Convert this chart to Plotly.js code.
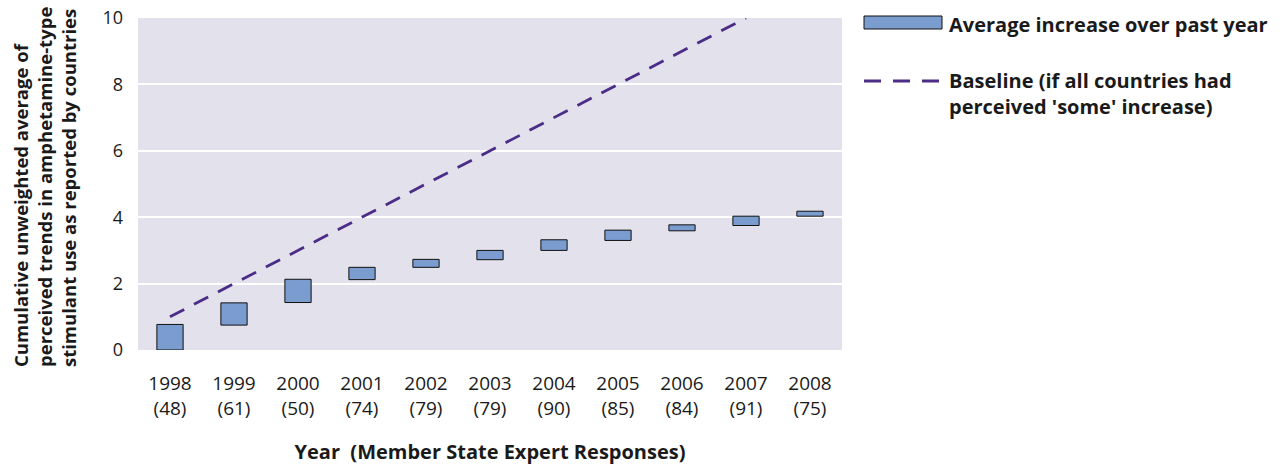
<!DOCTYPE html>
<html>
<head>
<meta charset="utf-8">
<script src="https://cdn.plot.ly/plotly-3.0.1.min.js"></script>
<style>html,body{margin:0;padding:0;background:#fff;}#chart{width:1285px;height:468px;}</style>
</head>
<body>
<div id="chart"></div>
<script>
const years = ['1998','1999','2000','2001','2002','2003','2004','2005','2006','2007','2008'];
const responses = ['48','61','50','74','79','79','90','85','84','91','75'];
const lowerValues = [0, 0.75, 1.43, 2.12, 2.49, 2.72, 3.00, 3.30, 3.59, 3.75, 4.03];
const upperValues = [0.77, 1.42, 2.13, 2.49, 2.73, 3.00, 3.32, 3.61, 3.77, 4.03, 4.18];
const baselineYears = ['1998','1999','2000','2001','2002','2003','2004','2005','2006','2007'];
const baselineValues = [1, 2, 3, 4, 5, 6, 7, 8, 9, 10];

const FONT = '"Open Sans", "Noto Sans", sans-serif';
const TXT = '#1a1a1a';
const BAR = '#7a9cce';
const LINE = '#4b2c87';

const L = 138, R = 842, T = 18, B = 350;
const px = v => (v - L) / (R - L);
const py = v => (B - v) / (B - T);

const ticktext = years.map((y, i) => y + '<br>(' + responses[i] + ')');

const traces = [
  {
    type: 'bar',
    x: years,
    base: lowerValues,
    y: upperValues.map((u, i) => u - lowerValues[i]),
    width: 0.41,
    marker: {color: BAR, line: {color: '#111', width: 1}},
    showlegend: false,
    hoverinfo: 'skip'
  },
  {
    type: 'scatter',
    mode: 'lines',
    x: baselineYears,
    y: baselineValues,
    line: {color: LINE, width: 2.8, dash: '16px,11px'},
    showlegend: false,
    hoverinfo: 'skip'
  }
];

const layout = {
  width: 1285, height: 468,
  margin: {l: L, r: 1285 - R, t: T, b: 468 - B, pad: 0},
  paper_bgcolor: '#ffffff',
  plot_bgcolor: '#e3e1ec',
  font: {family: FONT, color: TXT, size: 18},
  showlegend: false,
  xaxis: {
    type: 'category',
    tickvals: years,
    ticktext: ticktext,
    range: [-0.5, 10.5],
    showgrid: false,
    zeroline: false,
    showline: false,
    ticks: '',
    ticklabelstandoff: 20,
    tickfont: {size: 19, color: TXT},
    title: {text: '<b>Year  (Member State Expert Responses)</b>', font: {size: 20, color: TXT}, standoff: 25},
    automargin: false,
    fixedrange: true
  },
  yaxis: {
    range: [0, 10],
    tickvals: [0, 2, 4, 6, 8, 10],
    showgrid: true,
    gridcolor: '#ffffff',
    gridwidth: 2,
    zeroline: false,
    showline: false,
    ticks: '',
    ticklabelstandoff: 14,
    tickfont: {size: 18, color: TXT},
    automargin: false,
    fixedrange: true
  },
  shapes: [
    {type: 'rect', xref: 'paper', yref: 'paper', x0: px(864), x1: px(942), y0: py(29), y1: py(16),
     fillcolor: BAR, line: {color: '#111', width: 1}},
    {type: 'line', xref: 'paper', yref: 'paper', x0: px(864), x1: px(942), y0: py(81), y1: py(81),
     line: {color: LINE, width: 2.8, dash: '17px,12px'}}
  ],
  annotations: [
    {xref: 'paper', yref: 'paper', x: px(44), y: py(187), xanchor: 'center', yanchor: 'middle', showarrow: false,
     align: 'left', textangle: -90,
     text: '<b>Cumulative unweighted average of<br>perceived trends in amphetamine-type<br>stimulant use as reported by countries</b>',
     font: {size: 18.5, color: TXT}},
    {xref: 'paper', yref: 'paper', x: px(947), y: py(24), xanchor: 'left', yanchor: 'middle', showarrow: false, align: 'left',
     text: '<b>Average increase over past year</b>', font: {size: 20, color: TXT}},
    {xref: 'paper', yref: 'paper', x: px(947), y: py(94), xanchor: 'left', yanchor: 'middle', showarrow: false, align: 'left',
     text: "<b>Baseline (if all countries had<br>perceived 'some' increase)</b>", font: {size: 20, color: TXT}}
  ]
};

Plotly.newPlot('chart', traces, layout, {displayModeBar: false, staticPlot: true});
</script>
</body>
</html>
